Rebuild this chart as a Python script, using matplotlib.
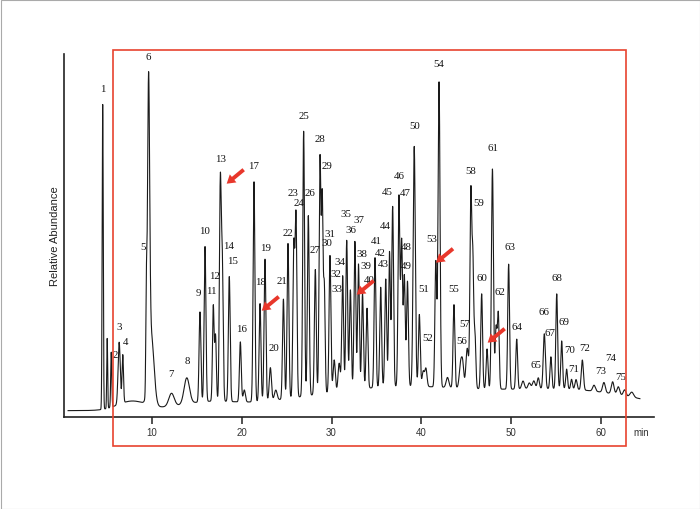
import numpy as np
import matplotlib
matplotlib.use('Agg')
import matplotlib.pyplot as plt
from matplotlib.patches import Rectangle

# peak table (time in min, height in detector units)
peak_time = [4.55, 5.05, 5.5, 6.38, 6.78, 9.4, 9.65, 9.95, 12.2, 13.9,
             15.37, 15.93, 16.85, 17.1, 17.63, 17.85, 18.63, 19.86, 20.3, 21.38,
             22.05, 22.6, 23.2, 23.8, 24.65, 25.16, 25.8, 26.05, 26.9, 27.42,
             28.2, 28.72, 28.97, 29.2, 29.83, 30.3, 30.85, 31.24, 31.69, 32.1,
             32.6, 33.0, 33.45, 33.95, 34.84, 35.47, 36.03, 36.45, 36.8, 37.5,
             37.8, 38.1, 38.45, 39.2, 39.77, 40.2, 40.5, 41.6, 41.96, 42.9,
             43.62, 44.37, 44.6, 45.1, 45.5, 45.72, 45.95, 46.7, 47.3, 47.9,
             48.3, 48.55, 49.7, 50.6, 51.3, 52.0, 52.5, 53.0, 53.67, 54.4,
             55.05, 55.6, 56.15, 56.7, 57.2, 57.9, 59.2, 60.3, 61.27, 61.9,
             62.6, 63.4]
peak_height = [305, 70, 55, 62, 48, 85, 290, 70, 13, 26,
               90, 155, 95, 65, 215, 135, 125, 60, 12, 220,
               98, 142, 33, 10, 100, 155, 150, 180, 265, 180,
               125, 235, 190, 105, 137, 32, 28, 115, 150, 100,
               148, 125, 95, 80, 130, 100, 108, 135, 180, 190,
               145, 110, 105, 240, 72, 15, 18, 125, 305, 10,
               83, 25, 20, 40, 195, 120, 55, 95, 40, 220,
               60, 75, 125, 50, 8, 6, 8, 11, 55, 32,
               95, 48, 20, 10, 10, 30, 6, 10, 12, 8,
               6, 5]
peak_width = [0.06, 0.05, 0.06, 0.12, 0.08, 0.06, 0.12, 0.3, 0.3, 0.3,
              0.1, 0.1, 0.09, 0.09, 0.1, 0.1, 0.1, 0.1, 0.12, 0.1,
              0.1, 0.1, 0.12, 0.15, 0.1, 0.1, 0.1, 0.1, 0.1, 0.1,
              0.1, 0.1, 0.09, 0.09, 0.1, 0.12, 0.12, 0.1, 0.1, 0.1,
              0.1, 0.1, 0.1, 0.1, 0.1, 0.1, 0.1, 0.1, 0.1, 0.1,
              0.1, 0.1, 0.1, 0.12, 0.1, 0.12, 0.12, 0.1, 0.11, 0.15,
              0.1, 0.15, 0.12, 0.15, 0.1, 0.09, 0.1, 0.1, 0.1, 0.11,
              0.1, 0.1, 0.1, 0.1, 0.15, 0.15, 0.15, 0.12, 0.12, 0.1,
              0.1, 0.1, 0.1, 0.1, 0.12, 0.12, 0.15, 0.15, 0.15, 0.15,
              0.15, 0.2]
peak_label = ['1', '', '2', '3', '4', '5', '6', '', '7', '8',
              '9', '10', '11', '12', '13', '14', '15', '16', '', '17',
              '18', '19', '20', '', '21', '22', '23', '24', '25', '26',
              '27', '28', '29', '30', '31', '32', '33', '34', '35', '36',
              '37', '38', '39', '40', '41', '42', '43', '44', '45', '46',
              '47', '48', '49', '50', '51', '', '52', '53', '54', '',
              '55', '56', '', '57', '58', '59', '', '60', '', '61',
              '', '62', '63', '64', '', '', '', '65', '66', '67',
              '68', '69', '70', '71', '', '72', '', '73', '74', '75',
              '', '']

# broad unresolved humps under the peaks
hump_time = [7.8, 16.0, 38.0, 58.0]
hump_height = [9, 6, 24, 16]
hump_width = [1.6, 3.0, 11.0, 7.0]

# arrows pointing at marked compounds
arrow_time = [18.34, 22.24, 32.8, 41.62, 47.37]
arrow_level = [227, 100, 116, 148, 68]

label_offset = {'2': (4, -2), '4': (3, 13), '5': (-3, 26), '7': (0, 20), '8': (1, 17),
                '9': (-2, 19), '11': (-2, 14), '12': (-1, 59), '14': (6, 2), '15': (3, 16),
                '16': (1, 13), '18': (0, 22), '19': (1, 12), '20': (4, 20), '21': (-1, 19),
                '22': (0, 11), '23': (-1, 47), '24': (3, 8), '26': (2, 23), '27': (0, 20),
                '29': (5, 24), '30': (3, 39), '31': (0, 22), '32': (2, 86), '33': (-2, 75),
                '34': (-3, 14), '35': (-1, 27), '36': (1, 60), '37': (4, 22), '38': (3, 11),
                '39': (3, 28), '40': (2, 29), '41': (1, 17), '42': (0, 35), '43': (-2, 15),
                '44': (-4, 26), '45': (-5, 15), '46': (0, 19), '47': (4, 46), '48': (2, 28),
                '49': (-1, 16), '50': (0, 21), '51': (4, 26), '52': (2, 30), '53': (-4, 22),
                '54': (0, 18), '56': (1, 19), '57': (-3, 25), '59': (6, 45), '61': (1, 22),
                '62': (2, 20), '63': (1, 18), '64': (0, 13), '65': (-2, 13), '66': (0, 22),
                '67': (-1, 24), '69': (2, 19), '70': (3, 20), '71': (2, 11), '72': (2, 13),
                '73': (-3, 12), '74': (-2, 24), '75': (2, 10)}

t = np.linspace(0.7, 64.3, 14000)
trace = np.zeros_like(t)
for c, h, w in zip(peak_time + hump_time, peak_height + hump_height, peak_width + hump_width):
    trace += h * np.exp(-0.5 * ((t - c) / w) ** 2)

fig = plt.figure(figsize=(7, 5.1), dpi=100)
ax = fig.add_axes([64 / 700, 92 / 510, 590 / 700, 363 / 510])
ax.plot(t, trace, color='#1a1a1a', lw=0.8)
ax.set_xlim(0.245, 65.87)
ax.set_ylim(-6.3, 356.7)

for sp in ['top', 'right']:
    ax.spines[sp].set_visible(False)
for sp in ['left', 'bottom']:
    ax.spines[sp].set_linewidth(1.2)
    ax.spines[sp].set_color('#222222')
ax.set_yticks([])
ax.set_xticks([10, 20, 30, 40, 50, 60])
ax.tick_params(axis='x', direction='out', length=5, width=1.1, pad=2,
               labelsize=7, labelcolor='#333333', color='#222222')
for lab in ax.get_xticklabels():
    lab.set_family('Liberation Sans')
ax.set_ylabel('Relative Abundance', family='Liberation Sans', fontsize=8, color='#222222', labelpad=3)
ax.annotate('min', xy=(64.5, 0), xycoords=('data', 'axes fraction'), xytext=(0, -15),
            textcoords='offset pixels', ha='center', va='center',
            family='Liberation Sans', fontsize=7, color='#333333')

# peak numbers
for c, lab in zip(peak_time, peak_label):
    if not lab:
        continue
    top = np.interp(c, t, trace)
    dx, dy = label_offset.get(lab, (0, 16))
    ax.annotate(lab, xy=(c, top), xytext=(dx, dy), textcoords='offset pixels',
                ha='center', va='center', family='Liberation Serif', fontsize=7.8,
                color='#111111')

# red arrows
for c, lv in zip(arrow_time, arrow_level):
    ax.annotate('', xy=(c, lv), xytext=(17, 14), textcoords='offset pixels',
                arrowprops=dict(arrowstyle='simple,head_width=0.75,head_length=0.6,tail_width=0.28',
                                fc='#e8372b', ec='none', shrinkA=0, shrinkB=0, mutation_scale=10))

# red highlight box and outer frame
fig.patches.append(Rectangle((112.7 / 700, (510 - 447) / 510), (626 - 112.7) / 700, (447 - 51) / 510,
                             transform=fig.transFigure, fill=False, ec='#e8432f', lw=1.2))
fig.patches.append(Rectangle((0.5 / 700, 0.5 / 510), 699 / 700, 509 / 510,
                             transform=fig.transFigure, fill=False, ec='#aaaaaa', lw=0.8))

fig.savefig('out.png', dpi=100)
